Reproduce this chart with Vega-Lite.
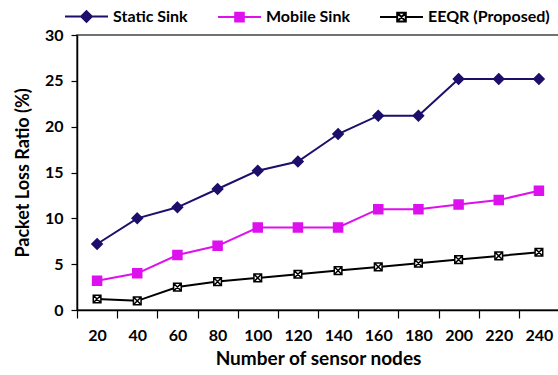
{
  "$schema": "https://vega.github.io/schema/vega-lite/v6.json",
  "width": 482,
  "height": 275,
  "autosize": {"type": "none"},
  "padding": {"left": 77, "top": 35, "right": 0, "bottom": 65},
  "config": {
    "font": "Lato",
    "view": {"stroke": "#444", "strokeWidth": 1.5},
    "axis": {"labelFont": "Lato", "labelFontWeight": "bold", "titleFont": "Lato", "titleFontWeight": "bold", "labelColor": "#000", "titleColor": "#000", "domainColor": "#000", "tickColor": "#000", "domainWidth": 1.5, "tickWidth": 1.2}
  },
  "data": {
    "values": [
      {"nodes": 20, "series": "Static Sink", "value": 7.2},
      {"nodes": 40, "series": "Static Sink", "value": 10},
      {"nodes": 60, "series": "Static Sink", "value": 11.2},
      {"nodes": 80, "series": "Static Sink", "value": 13.2},
      {"nodes": 100, "series": "Static Sink", "value": 15.2},
      {"nodes": 120, "series": "Static Sink", "value": 16.2},
      {"nodes": 140, "series": "Static Sink", "value": 19.2},
      {"nodes": 160, "series": "Static Sink", "value": 21.2},
      {"nodes": 180, "series": "Static Sink", "value": 21.2},
      {"nodes": 200, "series": "Static Sink", "value": 25.2},
      {"nodes": 220, "series": "Static Sink", "value": 25.2},
      {"nodes": 240, "series": "Static Sink", "value": 25.2},
      {"nodes": 20, "series": "Mobile Sink", "value": 3.2},
      {"nodes": 40, "series": "Mobile Sink", "value": 4},
      {"nodes": 60, "series": "Mobile Sink", "value": 6},
      {"nodes": 80, "series": "Mobile Sink", "value": 7},
      {"nodes": 100, "series": "Mobile Sink", "value": 9},
      {"nodes": 120, "series": "Mobile Sink", "value": 9},
      {"nodes": 140, "series": "Mobile Sink", "value": 9},
      {"nodes": 160, "series": "Mobile Sink", "value": 11},
      {"nodes": 180, "series": "Mobile Sink", "value": 11},
      {"nodes": 200, "series": "Mobile Sink", "value": 11.5},
      {"nodes": 220, "series": "Mobile Sink", "value": 12},
      {"nodes": 240, "series": "Mobile Sink", "value": 13},
      {"nodes": 20, "series": "EEQR (Proposed)", "value": 1.2},
      {"nodes": 40, "series": "EEQR (Proposed)", "value": 1.0},
      {"nodes": 60, "series": "EEQR (Proposed)", "value": 2.5},
      {"nodes": 80, "series": "EEQR (Proposed)", "value": 3.1},
      {"nodes": 100, "series": "EEQR (Proposed)", "value": 3.5},
      {"nodes": 120, "series": "EEQR (Proposed)", "value": 3.9},
      {"nodes": 140, "series": "EEQR (Proposed)", "value": 4.3},
      {"nodes": 160, "series": "EEQR (Proposed)", "value": 4.7},
      {"nodes": 180, "series": "EEQR (Proposed)", "value": 5.1},
      {"nodes": 200, "series": "EEQR (Proposed)", "value": 5.5},
      {"nodes": 220, "series": "EEQR (Proposed)", "value": 5.9},
      {"nodes": 240, "series": "EEQR (Proposed)", "value": 6.3}
    ]
  },
  "encoding": {
    "x": {
      "field": "nodes", "type": "ordinal",
      "scale": {"type": "band", "paddingInner": 0, "paddingOuter": 0},
      "axis": {"title": "Number of sensor nodes", "labelAngle": 0, "tickBand": "extent", "tickSize": 8, "labelPadding": 9, "labelFontSize": 16, "titleFontSize": 19, "titlePadding": 6}
    },
    "y": {
      "field": "value", "type": "quantitative",
      "scale": {"domain": [0, 30]},
      "axis": {"title": "Packet Loss Ratio (%)", "values": [0, 5, 10, 15, 20, 25, 30], "grid": false, "tickSize": 6, "labelPadding": 8, "labelFontSize": 16, "titleFontSize": 18, "titlePadding": 12}
    }
  },
  "layer": [
    {
      "mark": {"type": "line", "strokeWidth": 2},
      "encoding": {
        "stroke": {
          "field": "series", "type": "nominal",
          "scale": {"domain": ["Static Sink", "Mobile Sink", "EEQR (Proposed)"], "range": ["#1c0f6b", "#dd11ee", "#000000"]},
          "legend": {
            "title": null,
            "orient": "none",
            "direction": "horizontal",
            "legendX": -13,
            "legendY": -41,
            "padding": 0,
            "symbolSize": 1849,
            "symbolStrokeWidth": 2,
            "symbolOpacity": 1,
            "labelFont": "Lato",
            "labelFontWeight": "bold",
            "labelFontSize": 16,
            "labelColor": "#000",
            "labelOffset": 4,
            "columnPadding": 26,
            "labelLimit": 300
          }
        }
      }
    },
    {
      "transform": [{"filter": "datum.value < 0"}],
      "mark": {"type": "point", "filled": true, "size": 81, "strokeWidth": 2, "opacity": 1},
      "encoding": {
        "stroke": {"field": "series", "type": "nominal", "legend": null},
        "fill": {
          "field": "series", "type": "nominal",
          "scale": {"domain": ["Static Sink", "Mobile Sink", "EEQR (Proposed)"], "range": ["#1c0f6b", "#dd11ee", "#ffffff"]},
          "legend": null
        },
        "shape": {
          "field": "series", "type": "nominal",
          "scale": {"domain": ["Static Sink", "Mobile Sink", "EEQR (Proposed)"], "range": ["M-1,0H1M0,-0.25L0.25,0L0,0.25L-0.25,0Z", "M-1,0H1M-0.2,-0.2H0.2V0.2H-0.2Z", "M-1,0H-0.2M0.2,0H1M-0.2,-0.2H0.2V0.2H-0.2ZM-0.2,-0.2L0.2,0.2M0.2,-0.2L-0.2,0.2"]},
          "legend": null
        }
      }
    },
    {
      "transform": [{"filter": "datum.series === 'Static Sink'"}],
      "mark": {"type": "point", "filled": true, "shape": "M0,-1.15L1.15,0L0,1.15L-1.15,0Z", "size": 81, "fill": "#1c0f6b", "stroke": "#1c0f6b", "strokeWidth": 1.5, "opacity": 1}
    },
    {
      "transform": [{"filter": "datum.series === 'Mobile Sink'"}],
      "mark": {"type": "point", "filled": true, "shape": "M-1,-1H1V1H-1Z", "size": 81, "fill": "#dd11ee", "stroke": "#dd11ee", "strokeWidth": 1.5, "opacity": 1}
    },
    {
      "transform": [{"filter": "datum.series === 'EEQR (Proposed)'"}],
      "mark": {"type": "point", "filled": true, "shape": "M-0.85,-0.85H0.85V0.85H-0.85ZM-0.85,-0.85L0.85,0.85M0.85,-0.85L-0.85,0.85", "size": 81, "fill": "#ffffff", "stroke": "#000000", "strokeWidth": 1.5, "opacity": 1}
    }
  ]
}
